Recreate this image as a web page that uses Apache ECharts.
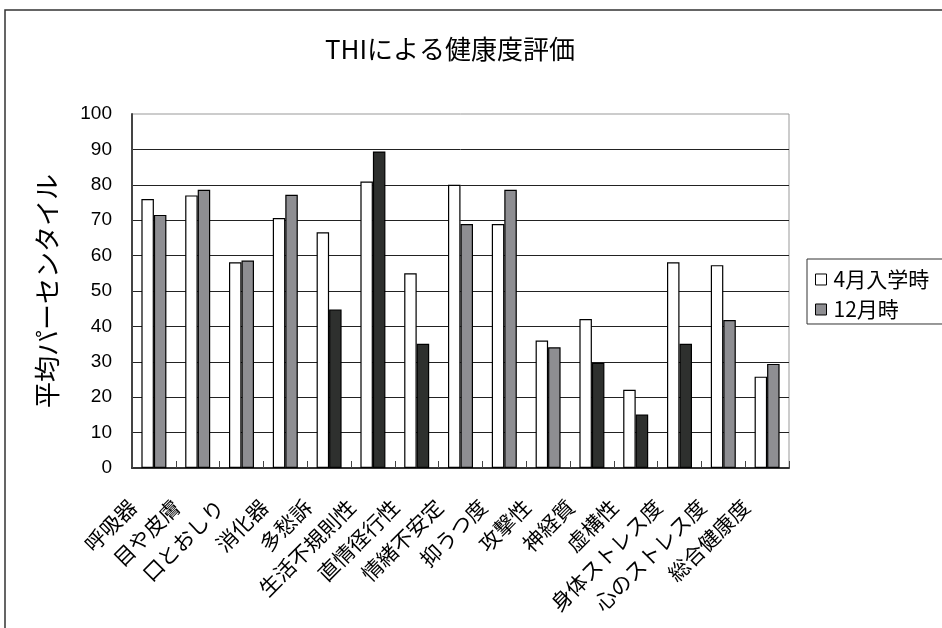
<!DOCTYPE html>
<html>
<head>
<meta charset="utf-8">
<script src="https://cdn.jsdelivr.net/npm/echarts@6/dist/echarts.min.js"></script>
<style>
  html, body { margin: 0; padding: 0; background: #fff; }
  #chart { width: 942px; height: 628px; }
</style>
</head>
<body>
<div id="chart"></div>
<script>
// THI scale names
const categories = ['呼吸器', '目や皮膚', '口とおしり', '消化器', '多愁訴', '生活不規則性', '直情径行性',
  '情緒不安定', '抑うつ度', '攻撃性', '神経質', '虚構性', '身体ストレス度', '心のストレス度', '総合健康度'];

// mean percentile at entrance (April) and in December
const aprilValues = [76, 77, 58.1, 70.6, 66.6, 80.9, 55, 80, 68.9, 36, 42.1, 22.1, 58.1, 57.3, 25.8];
const decemberValues = [71.5, 78.6, 58.6, 77.2, 44.8, 89.4, 35.1, 68.9, 78.6, 34.1, 29.7, 15.1, 35.1, 41.8, 29.4];
// December bars drawn in the dark shade
const decemberDark = [false, false, false, false, true, true, true, false, false, false, true, true, true, false, false];

const yTicks = [0, 10, 20, 30, 40, 50, 60, 70, 80, 90, 100];

const seriesNames = ['4月入学時', '12月時'];

const FONT_JP = '"Noto Sans CJK JP", sans-serif';
const GRAY = '#8e8e92';
const DARK = '#2e302e';

const chart = echarts.init(document.getElementById('chart'));

chart.setOption({
  backgroundColor: '#fff',
  animation: false,
  title: {
    text: 'THIによる健康度評価',
    left: 445,
    top: 31,
    textAlign: 'center',
    textStyle: { fontFamily: FONT_JP, fontSize: 26, fontWeight: 'normal', color: '#000' }
  },
  graphic: [{
    type: 'rect',
    shape: { x: 5, y: 10, width: 960, height: 640 },
    style: { fill: 'none', stroke: '#333', lineWidth: 1.5 },
    silent: true,
    z: -1
  }],
  legend: {
    orient: 'vertical',
    left: 807,
    top: 259,
    itemWidth: 11,
    itemHeight: 11,
    itemGap: 9,
    padding: [10, 40, 4, 8],
    borderColor: '#333',
    borderWidth: 1,
    backgroundColor: '#fff',
    textStyle: { fontFamily: FONT_JP, fontSize: 21, color: '#000', padding: [0, 0, 0, 2] },
    data: [
      { name: seriesNames[0], icon: 'rect', itemStyle: { color: '#fff', borderColor: '#000', borderWidth: 1 } },
      { name: seriesNames[1], icon: 'rect', itemStyle: { color: GRAY, borderColor: '#000', borderWidth: 1 } }
    ]
  },
  grid: {
    left: 132, top: 114, right: 153, bottom: 160,
    show: true, borderColor: '#999', borderWidth: 1
  },
  xAxis: {
    type: 'category',
    data: categories,
    axisLine: { show: true, lineStyle: { color: '#333', width: 2 } },
    axisTick: { show: true, inside: true, length: 7, lineStyle: { color: '#444', width: 1 } },
    axisLabel: {
      rotate: 45, interval: 0, margin: 14,
      padding: [0, 30, 0, 0],
      fontFamily: FONT_JP, fontSize: 21, color: '#000'
    }
  },
  yAxis: {
    type: 'value',
    min: yTicks[0],
    max: yTicks[yTicks.length - 1],
    interval: 10,
    name: '平均パーセンタイル',
    nameLocation: 'middle',
    nameGap: 72,
    nameTextStyle: { fontFamily: FONT_JP, fontSize: 26, color: '#000' },
    axisLine: { show: true, lineStyle: { color: '#444', width: 2 } },
    axisTick: { show: false },
    axisLabel: {
      margin: 20,
      fontFamily: '"Liberation Sans", Arial, sans-serif', fontSize: 19, color: '#000'
    },
    splitLine: { show: true, showMaxLine: false, lineStyle: { color: '#222', width: 1 } }
  },
  series: [
    {
      name: seriesNames[0],
      type: 'bar',
      barWidth: 12.5,
      barGap: '0%',
      itemStyle: { color: '#fff', borderColor: '#000', borderWidth: 1.2 },
      data: aprilValues
    },
    {
      name: seriesNames[1],
      type: 'bar',
      barWidth: 12.5,
      barGap: '0%',
      itemStyle: { color: GRAY, borderColor: '#000', borderWidth: 1.2 },
      data: decemberValues.map((v, i) => ({
        value: v,
        itemStyle: { color: decemberDark[i] ? DARK : GRAY }
      }))
    }
  ]
});
</script>
</body>
</html>
